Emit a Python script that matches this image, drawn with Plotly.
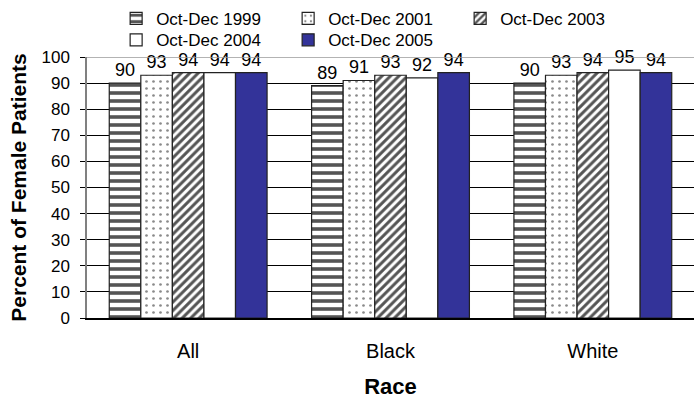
import plotly.graph_objects as go

# Categories and series
races = ["All", "Black", "White"]
periods = ["Oct-Dec 1999", "Oct-Dec 2001", "Oct-Dec 2003", "Oct-Dec 2004", "Oct-Dec 2005"]
v1999 = [90, 89, 90]
v2001 = [93, 91, 93]
v2003 = [94, 93, 94]
v2004 = [94, 92, 95]
v2005 = [94, 94, 94]
series = [v1999, v2001, v2003, v2004, v2005]

y_ticks = list(range(0, 101, 10))

FONT = "Liberation Sans, Arial, sans-serif"

# Fill style for each period
fills = [
    dict(color="white", pattern=dict(shape="-", size=8, solidity=0.45, fgcolor="#555555", bgcolor="white", fillmode="replace")),
    dict(color="white", pattern=dict(shape=".", size=7, solidity=0.12, fgcolor="#8a8a8a", bgcolor="white", fillmode="replace")),
    dict(color="white", pattern=dict(shape="/", size=6, solidity=0.5, fgcolor="#555555", bgcolor="white", fillmode="replace")),
    dict(color="white"),
    dict(color="#333399"),
]
# first three periods on the upper legend row, last two on the lower row
legend_rows = ["legend", "legend", "legend", "legend2", "legend2"]

fig = go.Figure()
for name, vals, f, lg in zip(periods, series, fills, legend_rows):
    fig.add_trace(go.Bar(
        name=name,
        x=races,
        y=vals,
        text=[str(v) for v in vals],
        textposition="outside",
        textfont=dict(family=FONT, size=18, color="black"),
        cliponaxis=False,
        marker=dict(line=dict(color="#222222", width=1.2), **f),
        legend=lg,
    ))

legend_style = dict(
    orientation="h",
    xanchor="left",
    yanchor="top",
    font=dict(family=FONT, size=17, color="black"),
    itemwidth=30,
    entrywidth=127,
    entrywidthmode="pixels",
    bgcolor="rgba(0,0,0,0)",
    traceorder="normal",
)

fig.update_layout(
    width=694,
    height=399,
    margin=dict(l=87, r=0, t=57, b=81),
    paper_bgcolor="white",
    plot_bgcolor="white",
    barmode="group",
    bargap=0.22,
    bargroupgap=0,
    font=dict(family=FONT, color="black"),
    showlegend=True,
    legend=dict(x=0.048, y=1.215, **legend_style),
    legend2=dict(x=0.048, y=1.133, **legend_style),
)

fig.update_yaxes(
    range=[0, 100],
    tickvals=y_ticks,
    ticks="outside",
    ticklen=5,
    tickcolor="black",
    tickfont=dict(family=FONT, size=17, color="black"),
    ticklabelstandoff=7,
    showgrid=True,
    gridcolor="black",
    gridwidth=1,
    showline=True,
    linecolor="#808080",
    linewidth=1.5,
    zeroline=False,
    title=dict(text="<b>Percent of Female Patients</b>", font=dict(family=FONT, size=21, color="black"), standoff=9),
)

fig.update_xaxes(
    showline=True,
    linecolor="black",
    linewidth=1.5,
    mirror=False,
    ticks="",
    tickfont=dict(family=FONT, size=20, color="black"),
    ticklabelstandoff=14,
    title=dict(text="<b>Race</b>", font=dict(family=FONT, size=22, color="black"), standoff=18),
)

# thin grey frame line along the top of the plotting area
fig.add_hline(y=100, line=dict(color="#9a9a9a", width=1.5), layer="above")

fig.write_html("out.html")
